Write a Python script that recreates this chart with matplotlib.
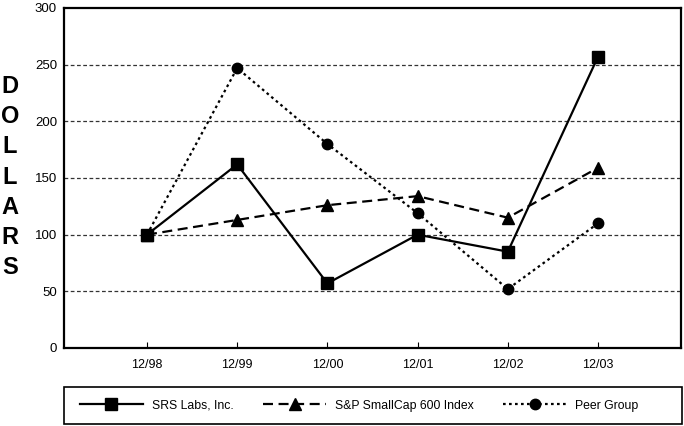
import matplotlib
matplotlib.use("Agg")
import matplotlib.pyplot as plt
from matplotlib.patches import Rectangle

plt.rcParams['font.family'] = ['Liberation Sans', 'DejaVu Sans']

categories = ["12/98", "12/99", "12/00", "12/01", "12/02", "12/03"]
srs = [100, 162, 57, 100, 85, 257]
sp600 = [100, 113, 126, 134, 115, 159]
peer = [100, 247, 180, 119, 52, 110]
yticks = [0, 50, 100, 150, 200, 250, 300]

W, H = 684, 426
fig = plt.figure(figsize=(W/100, H/100), dpi=100)
ax = fig.add_axes([64/W, (H-348)/H, (681-64)/W, 340/H])

x = list(range(len(categories)))
for yv in yticks[1:-1]:
    ax.axhline(yv, color='#333333', lw=0.9, ls=(0, (3, 2)), zorder=1)

l1, = ax.plot(x, srs, color='black', lw=1.6, ls='-', marker='s', ms=8,
              label='SRS Labs, Inc.', zorder=3)
l2, = ax.plot(x, sp600, color='black', lw=1.6, ls=(0, (4.5, 2.5)), marker='^', ms=8.5,
              label='S&P SmallCap 600 Index', zorder=3)
l3, = ax.plot(x, peer, color='black', lw=1.6, ls=(0, (1.2, 1.5)), marker='o', ms=7.5,
              label='Peer Group', zorder=3)

ax.set_xlim(-0.92, 5.92)
ax.set_ylim(0, 300)
ax.set_xticks(x)
ax.set_xticklabels(categories, fontsize=9)
ax.set_yticks(yticks)
ax.set_yticklabels([str(v) for v in yticks], fontsize=9.5)
ax.tick_params(axis='x', direction='in', length=4, width=0.8, pad=8)
ax.tick_params(axis='y', length=0, pad=5)
for s in ax.spines.values():
    s.set_linewidth(1.6)

fig.text(10/W, 1 - 177/H, "D\nO\nL\nL\nA\nR\nS", ha='center', va='center',
         fontsize=17, fontweight='bold', linespacing=1.4)

# legend frame
fig.add_artist(Rectangle((64/W, 1 - 424/H), (682-64)/W, 37/H, transform=fig.transFigure,
                         facecolor='none', edgecolor='black', lw=1.2))
leg = fig.legend(handles=[l1, l2, l3], loc='center left', ncol=3,
                 bbox_to_anchor=(80/W, 1 - 405.5/H),
                 frameon=False, fontsize=8.8,
                 handlelength=5.15, handletextpad=0.7, columnspacing=2.45,
                 borderaxespad=0, borderpad=0)

fig.savefig("out.png", dpi=100)
